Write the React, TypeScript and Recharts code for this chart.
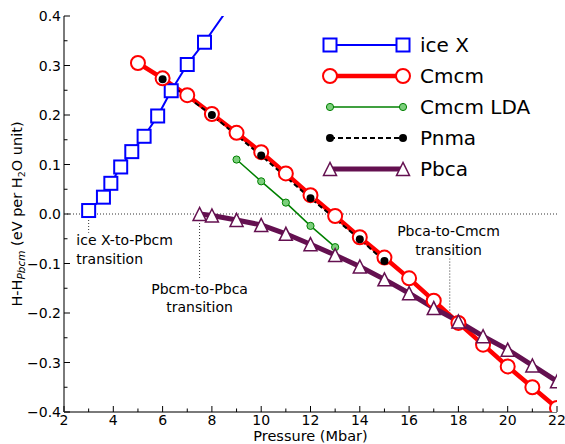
import React from 'react';
import { LineChart, Line, XAxis, YAxis, ReferenceLine, ReferenceDot, Legend } from 'recharts';

// enthalpy differences vs Pbcm
const P_ICE_X = [3.0, 3.6, 3.9, 4.3, 4.75, 5.25, 5.8, 6.35, 7.0, 7.7, 8.6];
const H_ICE_X = [0.007, 0.034, 0.062, 0.095, 0.126, 0.157, 0.198, 0.249, 0.302, 0.347, 0.411];

const P_CMCM = [5, 6, 7, 8, 9, 10, 11, 12, 13, 14, 15, 16, 17, 18, 19, 20, 21, 22];
const H_CMCM = [0.305, 0.274, 0.24, 0.202, 0.164, 0.125, 0.082, 0.038, -0.004, -0.047, -0.088, -0.13, -0.175, -0.22, -0.264, -0.308, -0.35, -0.392];

const P_CMCM_LDA = [9, 10, 11, 12, 13];
const H_CMCM_LDA = [0.11, 0.066, 0.023, -0.024, -0.067];

const P_PNMA = [6, 8, 10, 12, 14, 15];
const H_PNMA = [0.272, 0.2, 0.118, 0.032, -0.051, -0.095];

const P_PBCA = [7.5, 8, 9, 10, 11, 12, 13, 14, 15, 16, 17, 18, 19, 20, 21, 22];
const H_PBCA = [0.0, -0.003, -0.012, -0.022, -0.04, -0.061, -0.083, -0.106, -0.132, -0.16, -0.19, -0.217, -0.247, -0.274, -0.306, -0.338];

const SERIES_NAMES = ['ice X', 'Cmcm', 'Cmcm LDA', 'Pnma', 'Pbca'];

const X_DOMAIN = [2, 22];
const Y_DOMAIN = [-0.4, 0.4];
const X_MAJOR = [2, 4, 6, 8, 10, 12, 14, 16, 18, 20, 22];
const X_MINOR = [3, 5, 7, 9, 11, 13, 15, 17, 19, 21];
const Y_MAJOR = [-0.4, -0.3, -0.2, -0.1, 0, 0.1, 0.2, 0.3, 0.4];
const Y_MINOR = [-0.35, -0.25, -0.15, -0.05, 0.05, 0.15, 0.25, 0.35];

// transition markers: dotted drop line + caption
const TRANS_X = [3, 7.5, 17.65];
const TRANS_Y_TOP = [0, 0, -0.09];
const TRANS_Y_BOTTOM = [-0.038, -0.133, -0.205];
const NOTE_TEXT = [['ice X-to-Pbcm', 'transition'], ['Pbcm-to-Pbca', 'transition'], ['Pbca-to-Cmcm', 'transition']];
const NOTE_X = [2.5, 7.5, 17.6];
const NOTE_Y = [-0.0635, -0.161, -0.0444];
const NOTE_ANCHOR = ['start', 'middle', 'middle'];

const rows = (p: number[], h: number[]) => p.map((v, i) => ({ p: v, h: h[i] }));

const FONT = '"DejaVu Sans", sans-serif';
const FRAME = '#7a7a7a';
const BLUE = '#0000ff';
const RED = '#ff0000';
const GREEN = '#008000';
const PURPLE = '#641050';

const square = (cx: number, cy: number, key?: any) => (
  <rect key={key} x={cx - 6.5} y={cy - 6.5} width={13} height={13} fill="#fff" stroke={BLUE} strokeWidth={2} />
);
const ring = (cx: number, cy: number, key?: any) => (
  <circle key={key} cx={cx} cy={cy} r={7} fill="#fff" stroke={RED} strokeWidth={2} />
);
const greenDot = (cx: number, cy: number, key?: any) => (
  <circle key={key} cx={cx} cy={cy} r={3.6} fill="#7ccf7c" stroke={GREEN} strokeWidth={1} />
);
const blackDot = (cx: number, cy: number, key?: any) => (
  <circle key={key} cx={cx} cy={cy} r={4} fill="#000" stroke="none" />
);
const triangle = (cx: number, cy: number, key?: any) => (
  <polygon
    key={key}
    points={`${cx},${cy - 6.5} ${cx - 6.5},${cy + 6.5} ${cx + 6.5},${cy + 6.5}`}
    fill="#fff"
    stroke={PURPLE}
    strokeWidth={1.5}
  />
);

// markers for points outside the axes are not drawn (the line itself is clipped)
const dotFn = (m: (cx: number, cy: number, key?: any) => React.ReactElement) => (props: any) => {
  const v = props.payload ? props.payload.h : null;
  if (props.cx == null || props.cy == null || v == null || v > Y_DOMAIN[1] || v < Y_DOMAIN[0]) {
    return <g key={`e-${props.index}`} />;
  }
  return m(props.cx, props.cy, `d-${props.index}`);
};

const LEGEND_STYLE = [
  { color: BLUE, width: 2, dash: undefined, marker: square },
  { color: RED, width: 4.5, dash: undefined, marker: ring },
  { color: GREEN, width: 1.5, dash: undefined, marker: greenDot },
  { color: '#000', width: 2, dash: '5 3', marker: blackDot },
  { color: PURPLE, width: 5, dash: undefined, marker: triangle },
];

const LegendBox = () => (
  <svg width={260} height={170} style={{ display: 'block' }}>
    {SERIES_NAMES.map((name, i) => {
      const cy = 25 + i * 31;
      const s = LEGEND_STYLE[i];
      return (
        <g key={name}>
          <line x1={30} y1={cy} x2={103} y2={cy} stroke={s.color} strokeWidth={s.width} strokeDasharray={s.dash} />
          {s.marker(30, cy)}
          {s.marker(103, cy)}
          <text x={120} y={cy + 7} fontSize={20} fontFamily={FONT} fill="#000">
            {name}
          </text>
        </g>
      );
    })}
  </svg>
);

const isMajorY = (v: number) => Math.abs(v * 10 - Math.round(v * 10)) < 1e-6;
const fmtY = (v: number) => (Math.abs(v) < 1e-9 ? '0.0' : v.toFixed(1).replace('-', '\u2212'));

const BottomTick = (props: any) => {
  const { x, y, payload } = props;
  const major = X_MAJOR.includes(payload.value);
  return (
    <g>
      <line x1={x} y1={y} x2={x} y2={y - (major ? 6 : 3.5)} stroke="#000" />
      {major && (
        <text x={x} y={y + 13} textAnchor="middle" fontSize={14} fontFamily={FONT} fill="#000">
          {payload.value}
        </text>
      )}
    </g>
  );
};

const TopTick = (props: any) => {
  const { x, y, payload } = props;
  const major = X_MAJOR.includes(payload.value);
  return <line x1={x} y1={y} x2={x} y2={y + (major ? 6 : 3.5)} stroke="#000" />;
};

const LeftTick = (props: any) => {
  const { x, y, payload } = props;
  const major = isMajorY(payload.value);
  return (
    <g>
      <line x1={x} y1={y} x2={x + (major ? 6 : 3.5)} y2={y} stroke="#000" />
      {major && (
        <text x={x - 3} y={y + 5} textAnchor="end" fontSize={14} fontFamily={FONT} fill="#000">
          {fmtY(payload.value)}
        </text>
      )}
    </g>
  );
};

const RightTick = (props: any) => {
  const { x, y, payload } = props;
  const major = isMajorY(payload.value);
  return <line x1={x} y1={y} x2={x - (major ? 6 : 3.5)} y2={y} stroke="#000" />;
};

const YLabel = (props: any) => {
  const vb = props.viewBox;
  const x = vb.x + 22;
  const y = vb.y + vb.height / 2;
  return (
    <text x={x} y={y} transform={`rotate(-90, ${x}, ${y})`} textAnchor="middle" fontSize={14.5} fontFamily={FONT} fill="#000">
      <tspan>H-H</tspan>
      <tspan fontSize={10.5} fontStyle="italic" dy={3}>Pbcm</tspan>
      <tspan dy={-3}> (eV per H</tspan>
      <tspan fontSize={9.5} dy={3}>2</tspan>
      <tspan dy={-3}>O unit)</tspan>
    </text>
  );
};

const XLabel = (props: any) => {
  const vb = props.viewBox;
  return (
    <text x={vb.x + vb.width / 2} y={vb.y + 28.5} textAnchor="middle" fontSize={14.5} fontFamily={FONT} fill="#000">
      Pressure (Mbar)
    </text>
  );
};

const noteShape = (i: number) => (props: any) => (
  <text x={props.cx} y={props.cy} textAnchor={NOTE_ANCHOR[i] as any} fontSize={14} fontFamily={FONT} fill="#000">
    {NOTE_TEXT[i].map((t, j) => (
      <tspan key={j} x={props.cx} dy={j === 0 ? 0 : 18.7}>
        {t}
      </tspan>
    ))}
  </text>
);

const frameLine = { stroke: FRAME, strokeWidth: 2 };
const X_TICKS = [...X_MAJOR, ...X_MINOR].sort((a, b) => a - b);
const Y_TICKS = [...Y_MAJOR, ...Y_MINOR].sort((a, b) => a - b);

export default function App() {
  return (
    <div style={{ position: 'absolute', left: 0, top: 0 }}>
      <LineChart width={565} height={444} margin={{ top: 16, right: 8, bottom: 0, left: 0 }}>
        <ReferenceLine y={0} stroke="#333" strokeWidth={1} strokeDasharray="1 2" />
        {TRANS_X.map((x, i) => (
          <ReferenceLine
            key={`t-${i}`}
            segment={[{ x, y: TRANS_Y_TOP[i] }, { x, y: TRANS_Y_BOTTOM[i] }]}
            stroke="#333"
            strokeWidth={1}
            strokeDasharray="1 2"
          />
        ))}
        {NOTE_X.map((x, i) => (
          <ReferenceDot key={`n-${i}`} x={x} y={NOTE_Y[i]} r={0} shape={noteShape(i)} />
        ))}

        <Line data={rows(P_ICE_X, H_ICE_X)} dataKey="h" name={SERIES_NAMES[0]} type="linear" stroke={BLUE} strokeWidth={2} dot={dotFn(square)} activeDot={false} isAnimationActive={false} />
        <Line data={rows(P_CMCM, H_CMCM)} dataKey="h" name={SERIES_NAMES[1]} type="linear" stroke={RED} strokeWidth={4.5} dot={dotFn(ring)} activeDot={false} isAnimationActive={false} />
        <Line data={rows(P_CMCM_LDA, H_CMCM_LDA)} dataKey="h" name={SERIES_NAMES[2]} type="linear" stroke={GREEN} strokeWidth={1.5} dot={dotFn(greenDot)} activeDot={false} isAnimationActive={false} />
        <Line data={rows(P_PNMA, H_PNMA)} dataKey="h" name={SERIES_NAMES[3]} type="linear" stroke="#000" strokeWidth={2} strokeDasharray="5 3" dot={dotFn(blackDot)} activeDot={false} isAnimationActive={false} />
        <Line data={rows(P_PBCA, H_PBCA)} dataKey="h" name={SERIES_NAMES[4]} type="linear" stroke={PURPLE} strokeWidth={5} dot={dotFn(triangle)} activeDot={false} isAnimationActive={false} />

        <XAxis
          dataKey="p"
          type="number"
          domain={X_DOMAIN}
          allowDataOverflow
          ticks={X_TICKS}
          interval={0}
          height={32}
          tickSize={0}
          tickMargin={0}
          tickLine={false}
          tick={BottomTick}
          axisLine={frameLine}
          label={<XLabel />}
        />
        <XAxis
          xAxisId="top"
          orientation="top"
          type="number"
          domain={X_DOMAIN}
          allowDataOverflow
          ticks={X_TICKS}
          interval={0}
          height={0}
          tickSize={0}
          tickMargin={0}
          tickLine={false}
          tick={TopTick}
          axisLine={frameLine}
        />
        <YAxis
          type="number"
          domain={Y_DOMAIN}
          allowDataOverflow
          ticks={Y_TICKS}
          interval={0}
          width={64}
          tickSize={0}
          tickMargin={0}
          tickLine={false}
          tick={LeftTick}
          axisLine={frameLine}
          label={<YLabel />}
        />
        <YAxis
          yAxisId="right"
          orientation="right"
          type="number"
          domain={Y_DOMAIN}
          allowDataOverflow
          ticks={Y_TICKS}
          interval={0}
          width={0}
          tickSize={0}
          tickMargin={0}
          tickLine={false}
          tick={RightTick}
          axisLine={frameLine}
        />
        <Legend
          layout="vertical"
          align="center"
          verticalAlign="middle"
          wrapperStyle={{ left: 300, top: 20, width: 260, height: 170 }}
          content={() => <LegendBox />}
        />
      </LineChart>
    </div>
  );
}
